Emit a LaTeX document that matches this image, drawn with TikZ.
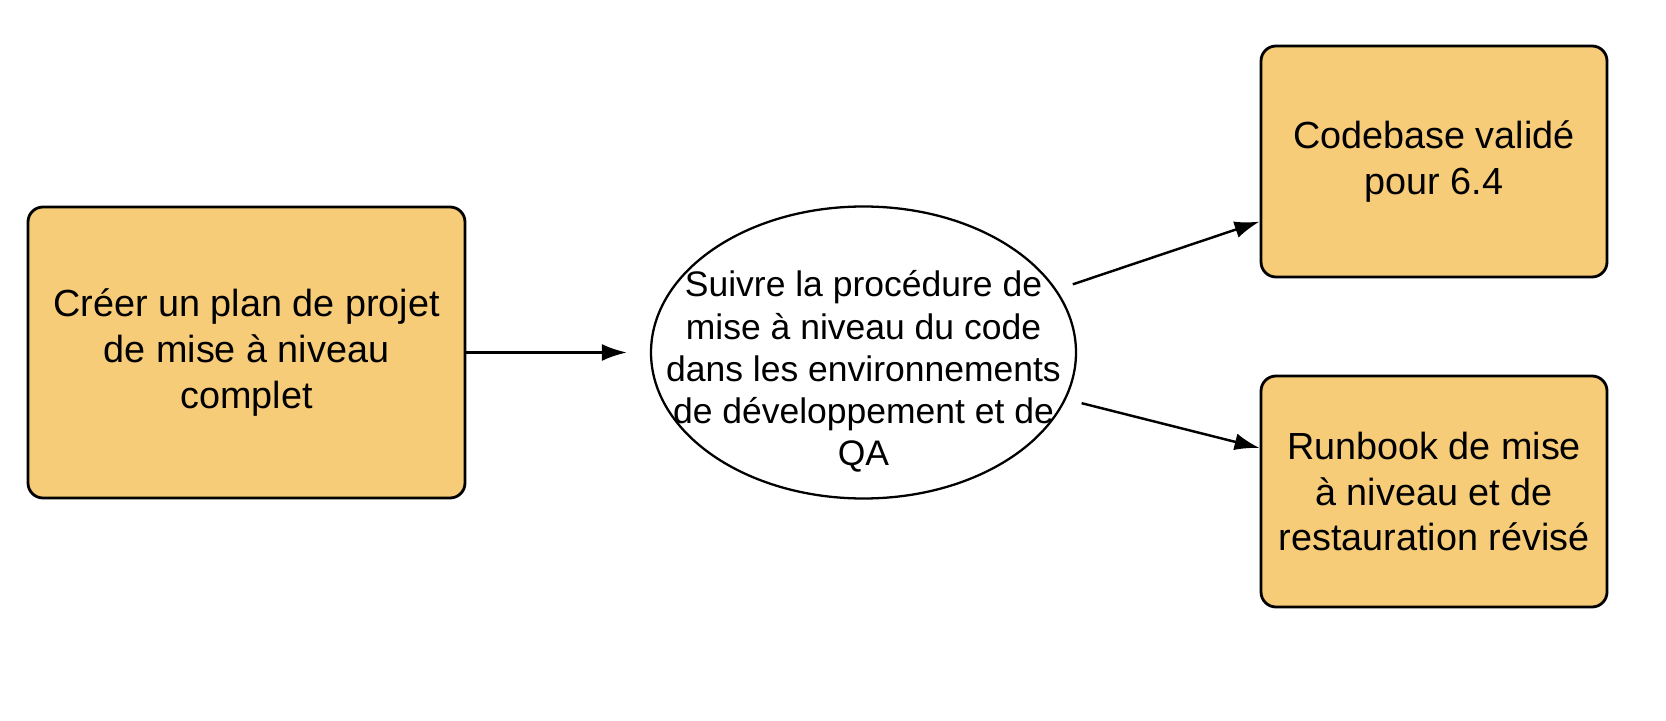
\documentclass[tikz,border=0pt]{standalone}
\usepackage{fontspec}
\setmainfont{Liberation Sans}
\usetikzlibrary{arrows.meta,positioning,calc,shapes.geometric}
\definecolor{taskfill}{HTML}{F6CC78}

\begin{document}
\begin{tikzpicture}
[x=1cm,y=1cm,
 task/.style={draw,line width=1.6pt,rounded corners=0.3cm,fill=taskfill,align=center,
   font=\fontsize{21.5}{26}\selectfont},
 proc/.style={draw,ellipse,line width=1.3pt,minimum width=8.5cm,minimum height=5.84cm,inner sep=0pt},
 proctext/.style={align=center,font=\fontsize{20.2}{24}\selectfont},
 flow/.style={-{Latex[length=0.5cm,width=0.34cm]},line width=1.4pt}]
      \useasboundingbox (0,0) rectangle (33.32,14.4);
      \node[task,minimum width=8.74cm,minimum height=5.82cm] (plan) at (4.93,7.35)
        {Créer un plan de projet\\de mise à niveau\\complet};
      \node[proc] (proc) at (17.27,7.35) {};
      \node[proctext] (proclabel) at ([yshift=-0.38cm]proc.center)
        {Suivre la procédure de\\mise à niveau du code\\dans les environnements\\de développement et de\\QA};
      \node[task,minimum width=6.92cm,minimum height=4.62cm] (codebase) at (28.68,11.17)
        {\fontsize{21.5}{28}\selectfont Codebase validé\\pour 6.4};
      \node[task,minimum width=6.92cm,minimum height=4.62cm] (runbook) at (28.68,4.57)
        {Runbook de mise\\à niveau et de\\restauration révisé};

      \path[flow]
      (plan) edge[shorten >=0.46cm] (proc)
      (proc.18.7) edge[shorten <=0.34cm] (codebase.199)
      (proc.-13.3) edge[shorten <=0.32cm] (runbook.166)
      ;
\end{tikzpicture}
\end{document}
